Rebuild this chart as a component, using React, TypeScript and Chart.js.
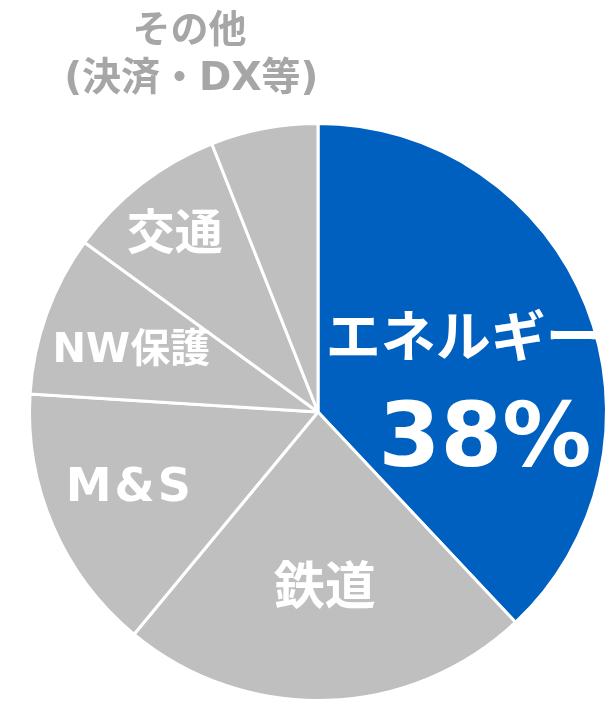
import React, { useEffect, useRef } from "react";
import { Chart, registerables } from "chart.js";

Chart.register(...registerables);

const categories = ["エネルギー", "鉄道", "M&S", "NW保護", "交通", "その他(決済・DX等)"];
const shares = [38, 23, 15, 9, 9, 6];
const sliceColors = ["#0060C0", "#BFBFBF", "#BFBFBF", "#BFBFBF", "#BFBFBF", "#BFBFBF"];

const LATIN = '"DejaVu Sans", "Noto Sans CJK JP", sans-serif';
const CJK = '"Noto Sans CJK JP", sans-serif';

// label text lines, placed by polar position (deg clockwise from top, fraction of radius)
const labelTexts = ["エネルギー", "38%", "鉄道", "M&S", "NW保護", "交通", "その他", "(決済・DX等)"];
const labelFonts = [
  `bold 55px ${CJK}`,
  `bold 89px ${LATIN}`,
  `bold 51px ${CJK}`,
  `bold 46px ${LATIN}`,
  `bold 40px ${LATIN}`,
  `bold 48px ${CJK}`,
  `bold 38px ${CJK}`,
  `bold 39px ${LATIN}`,
];
const labelColors = ["#FFFFFF", "#FFFFFF", "#FFFFFF", "#FFFFFF", "#FFFFFF", "#FFFFFF", "#A6A6A6", "#A6A6A6"];
const labelAngles = [62.0, 100.6, 177.8, 247.7, 288, 321.6, 341.5, 339.1];
const labelRadii = [0.57, 0.589, 0.6, 0.705, 0.68, 0.8, 1.404, 1.231];
const labelSpacing = ["0px", "0px", "0px", "3px", "0px", "0px", "0px", "0px"];

const labelPlugin = {
  id: "sliceLabels",
  afterDatasetsDraw(chart: any) {
    const meta = chart.getDatasetMeta(0);
    const arc = meta.data[0];
    if (!arc) return;
    const { x, y, outerRadius } = arc.getProps(["x", "y", "outerRadius"], true);
    const ctx = chart.ctx as CanvasRenderingContext2D;
    ctx.save();
    ctx.textAlign = "center";
    ctx.textBaseline = "middle";
    labelTexts.forEach((t, i) => {
      const a = (labelAngles[i] * Math.PI) / 180;
      const px = x + Math.sin(a) * labelRadii[i] * outerRadius;
      const py = y - Math.cos(a) * labelRadii[i] * outerRadius;
      ctx.font = labelFonts[i];
      ctx.fillStyle = labelColors[i];
      (ctx as any).letterSpacing = labelSpacing[i];
      ctx.fillText(t, px, py);
    });
    ctx.restore();
  },
};

export default function App() {
  const ref = useRef<HTMLCanvasElement | null>(null);
  useEffect(() => {
    if (!ref.current) return;
    const chart = new Chart(ref.current, {
      type: "pie",
      data: {
        labels: categories,
        datasets: [
          {
            data: shares,
            backgroundColor: sliceColors,
            borderColor: "#FFFFFF",
            borderWidth: 3,
          },
        ],
      },
      options: {
        animation: false,
        responsive: false,
        maintainAspectRatio: false,
        layout: { padding: { left: 27, right: 6, top: 122, bottom: 0 } },
        plugins: {
          legend: { display: false },
          tooltip: { enabled: false },
          title: { display: false },
        },
      },
      plugins: [labelPlugin],
    });
    return () => chart.destroy();
  }, []);
  return (
    <div style={{ position: "absolute", left: 0, top: 0, width: 615, height: 702, background: "#FFFFFF" }}>
      <canvas ref={ref} width={615} height={702} style={{ display: "block" }} />
    </div>
  );
}
